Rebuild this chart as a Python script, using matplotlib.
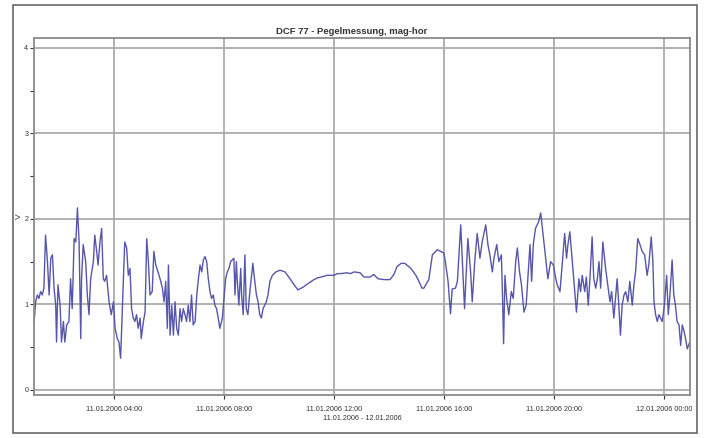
import matplotlib
matplotlib.use("Agg")
import matplotlib.pyplot as plt
import matplotlib.dates as mdates
from matplotlib.patches import Rectangle
from datetime import datetime, timedelta

# hours since 11.01.2006 00:00, level in V
hours = [
    1.09, 1.15, 1.21, 1.27, 1.33, 1.39, 1.45, 1.51, 1.58, 1.64, 1.70, 1.76, 1.82, 1.88, 1.91,
    1.96, 2.04, 2.09, 2.16, 2.21, 2.28, 2.36, 2.42, 2.48, 2.55, 2.61, 2.67, 2.73, 2.79, 2.82,
    2.88, 2.97, 3.03, 3.09, 3.15, 3.25, 3.30, 3.37, 3.42, 3.49, 3.55, 3.61, 3.66, 3.73, 3.82,
    3.90, 3.98, 4.04, 4.12, 4.18, 4.24, 4.30, 4.39, 4.46, 4.52, 4.58, 4.64, 4.70, 4.76, 4.82,
    4.88, 4.95, 4.99, 5.07, 5.13, 5.19, 5.25, 5.31, 5.39, 5.45, 5.52, 5.60, 5.70, 5.76, 5.82,
    5.88, 5.94, 5.98, 6.04, 6.10, 6.16, 6.22, 6.28, 6.34, 6.40, 6.46, 6.52, 6.58, 6.64, 6.70,
    6.76, 6.82, 6.88, 6.95, 7.01, 7.07, 7.13, 7.19, 7.25, 7.31, 7.37, 7.43, 7.49, 7.55, 7.61,
    7.67, 7.73, 7.79, 7.85, 7.94, 8.00, 8.06, 8.12, 8.18, 8.24, 8.30, 8.36, 8.40, 8.45, 8.48,
    8.54, 8.61, 8.64, 8.70, 8.76, 8.81, 8.87, 8.93, 8.99, 9.05, 9.12, 9.18, 9.24, 9.30, 9.36,
    9.42, 9.48, 9.54, 9.60, 9.67, 9.76, 9.89, 10.04, 10.22, 10.40, 10.55, 10.69, 10.87, 11.05,
    11.27, 11.40, 11.53, 11.75, 12.00, 12.12, 12.25, 12.47, 12.60, 12.73, 12.95, 13.09, 13.31,
    13.45, 13.60, 13.82, 14.04, 14.18, 14.29, 14.44, 14.58, 14.80, 14.98, 15.09, 15.20, 15.27,
    15.45, 15.58, 15.76, 15.88, 16.00, 16.06, 16.15, 16.24, 16.30, 16.42, 16.49, 16.61, 16.67,
    16.75, 16.87, 16.97, 17.03, 17.12, 17.21, 17.31, 17.39, 17.52, 17.60, 17.67, 17.76, 17.82,
    17.92, 18.00, 18.09, 18.13, 18.17, 18.22, 18.28, 18.36, 18.45, 18.52, 18.61, 18.67, 18.75,
    18.82, 18.91, 18.99, 19.05, 19.13, 19.19, 19.25, 19.33, 19.45, 19.52, 19.61, 19.70, 19.78,
    19.88, 19.98, 20.07, 20.12, 20.22, 20.30, 20.39, 20.46, 20.51, 20.58, 20.67, 20.73, 20.82,
    20.91, 20.97, 21.03, 21.12, 21.18, 21.25, 21.31, 21.39, 21.45, 21.52, 21.58, 21.64, 21.70,
    21.78, 21.88, 21.94, 22.04, 22.10, 22.18, 22.24, 22.30, 22.36, 22.42, 22.48, 22.55, 22.61,
    22.69, 22.76, 22.85, 22.91, 22.97, 23.05, 23.13, 23.21, 23.30, 23.39, 23.45, 23.54, 23.60,
    23.64, 23.70, 23.76, 23.82, 23.88, 23.94, 24.02, 24.10, 24.16, 24.22, 24.30, 24.36, 24.42,
    24.48, 24.55, 24.61, 24.67, 24.73, 24.79, 24.85, 24.93,
]
level = [
    0.78, 1.03, 1.11, 1.07, 1.15, 1.11, 1.19, 1.81, 1.50, 1.11, 1.54, 1.58, 1.19, 0.99, 0.56,
    1.23, 0.99, 0.56, 0.80, 0.56, 0.76, 0.80, 1.30, 0.95, 1.77, 1.73, 2.13, 1.73, 0.60, 1.30,
    1.70, 1.50, 1.11, 0.88, 1.30, 1.50, 1.81, 1.62, 1.46, 1.73, 1.89, 1.30, 1.27, 1.34, 1.03,
    0.88, 1.03, 0.72, 0.60, 0.56, 0.37, 0.91, 1.73, 1.66, 1.34, 1.42, 0.95, 0.84, 0.80, 0.88,
    0.72, 0.84, 0.60, 0.80, 0.91, 1.77, 1.50, 1.11, 1.15, 1.62, 1.46, 1.38, 1.27, 1.19, 1.03,
    1.27, 0.72, 1.46, 0.64, 0.99, 0.64, 1.03, 0.72, 0.64, 0.95, 0.80, 0.95, 0.88, 0.80, 0.99,
    0.80, 1.11, 0.76, 0.80, 1.11, 1.30, 1.46, 1.38, 1.52, 1.56, 1.50, 1.30, 1.15, 1.07, 1.11,
    0.99, 0.95, 0.84, 0.72, 0.84, 1.07, 1.30, 1.38, 1.42, 1.50, 1.52, 1.54, 1.11, 1.50, 1.30,
    0.99, 1.42, 1.11, 0.88, 1.58, 0.95, 0.88, 1.11, 1.30, 1.48, 1.27, 1.11, 1.03, 0.88, 0.84,
    0.95, 0.99, 1.03, 1.11, 1.27, 1.34, 1.38, 1.40, 1.38, 1.30, 1.23, 1.17, 1.20, 1.24,
    1.29, 1.31, 1.32, 1.34, 1.34, 1.36, 1.36, 1.37, 1.36, 1.38, 1.37, 1.32, 1.32,
    1.35, 1.30, 1.29, 1.29, 1.35, 1.44, 1.48, 1.48, 1.42, 1.34, 1.27, 1.19, 1.19,
    1.29, 1.58, 1.64, 1.62, 1.60, 1.48, 1.27, 0.89, 1.18, 1.19, 1.27, 1.93, 1.50,
    0.95, 1.77, 1.38, 1.03, 1.50, 1.83, 1.54, 1.73, 1.93, 1.70, 1.58, 1.38, 1.54,
    1.70, 1.50, 1.58, 1.11, 0.54, 1.34, 1.07, 0.88, 1.15, 1.07, 1.50, 1.66, 1.38,
    1.23, 0.91, 0.99, 1.30, 1.70, 1.27, 1.70, 1.89, 1.97, 2.07, 1.81, 1.54, 1.30,
    1.50, 1.46, 1.30, 1.23, 1.15, 1.46, 1.83, 1.54, 1.70, 1.85, 1.50, 1.27, 0.91,
    1.30, 1.15, 1.34, 1.15, 1.32, 0.99, 1.30, 1.79, 1.30, 1.19, 1.30, 1.50, 1.19,
    1.73, 1.42, 1.27, 1.03, 1.15, 0.84, 1.07, 1.30, 0.99, 0.64, 0.99, 1.11, 1.15,
    1.03, 1.27, 0.99, 1.23, 1.38, 1.77, 1.70, 1.62, 1.58, 1.34, 1.46, 1.79, 1.50,
    1.03, 0.88, 0.80, 0.88, 0.84, 0.80, 0.99, 1.34, 0.88, 1.11, 1.52, 1.11, 0.99,
    0.80, 0.76, 0.52, 0.76, 0.69, 0.60, 0.48, 0.55,
]

start = datetime(2006, 1, 11)
times = [start + timedelta(hours=h) for h in hours]

plt.rcParams['font.family'] = ['Liberation Sans', 'DejaVu Sans']
gridColor = "#ababab"
textColor = "#333333"

fig = plt.figure(figsize=(7.04, 4.38), dpi=100)
ax = fig.add_axes([34 / 704, 1 - 395 / 438, 656 / 704, (395 - 37.7) / 438])

# outer frame around the whole chart
fig.patches.append(Rectangle((13 / 704, 1 - 433 / 438), 684 / 704, 428 / 438,
                             transform=fig.transFigure, fill=False,
                             edgecolor="#5a5a5a", linewidth=1.1))

ax.plot(times, level, color="#5656aa", linewidth=1.0)

ax.set_xlim(start + timedelta(hours=1.09), start + timedelta(hours=24.95))
ax.set_ylim(-0.06, 4.12)
ax.set_yticks([0, 1, 2, 3, 4])
ax.set_yticks([0.5, 1.5, 2.5, 3.5], minor=True)

ax.xaxis.set_major_locator(mdates.HourLocator(byhour=[0, 4, 8, 12, 16, 20]))
ax.xaxis.set_major_formatter(mdates.DateFormatter('%d.%m.%Y %H:%M'))

ax.grid(True, which='major', color=gridColor, linewidth=1.3)
ax.set_axisbelow(True)
for side in ['top', 'bottom', 'left', 'right']:
    ax.spines[side].set_color("#8a8a8a")
    ax.spines[side].set_linewidth(1.3)

ax.tick_params(axis='both', which='major', labelsize=5.2, colors=textColor, length=3, width=0.8, pad=1)
ax.tick_params(axis='y', which='minor', length=3, width=0.8, colors=textColor)
ax.tick_params(axis='x', pad=5)

ax.set_title("DCF 77 - Pegelmessung, mag-hor", fontsize=6.8, fontweight='bold',
             color=textColor, x=(352 - 34) / 656, pad=3)
ax.set_ylabel("V", fontsize=6, color=textColor, labelpad=1)
ax.set_xlabel("11.01.2006 - 12.01.2006", fontsize=5.2, color=textColor, labelpad=1)

plt.savefig("out.png", dpi=100, facecolor="white")
plt.close()
